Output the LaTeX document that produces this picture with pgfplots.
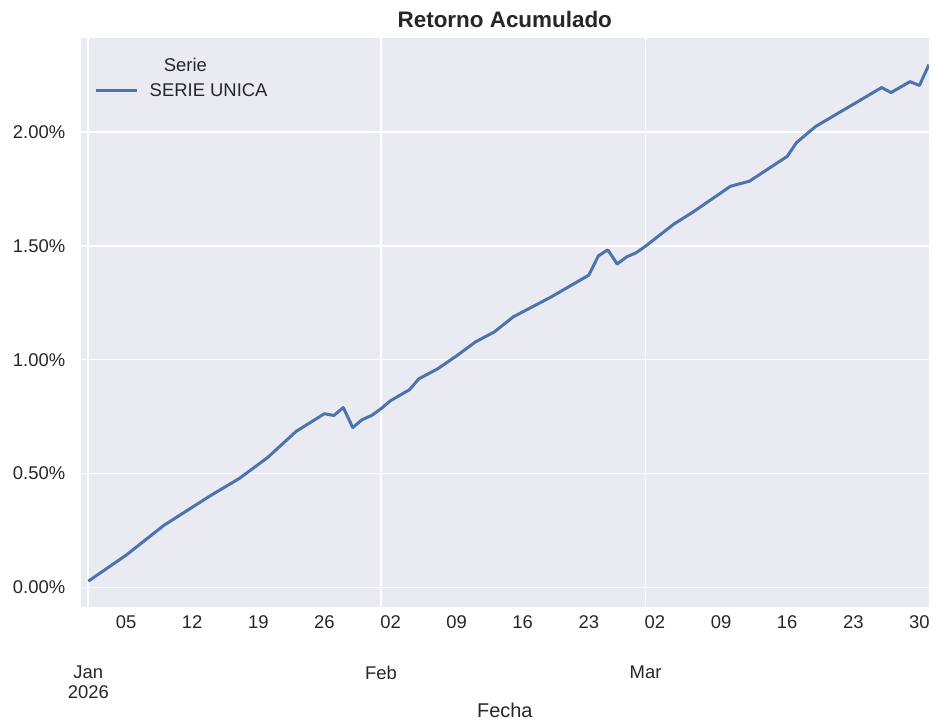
\documentclass[border=0pt]{standalone}
\usepackage{pgfplots}
\pgfplotsset{compat=1.18}
\usepackage{fontspec}
\setmainfont{Liberation Sans}

\definecolor{sbbg}{HTML}{EAEAF2}
\definecolor{sbblue}{HTML}{4C72B0}
\definecolor{sbtext}{HTML}{262626}

% dia 0 = 1 ene 2026
\pgfplotstableread{
dia  ret
0    0.028
4    0.142
8    0.273
13   0.405
16   0.479
19   0.571
22   0.685
25   0.763
26   0.755
27   0.790
28   0.702
29   0.737
30   0.755
31   0.785
32   0.820
34   0.868
35   0.916
37   0.960
39   1.017
41   1.078
43   1.122
45   1.188
49   1.275
53   1.371
54   1.455
55   1.482
56   1.420
57   1.451
58   1.469
59   1.498
62   1.595
64   1.647
68   1.761
70   1.783
74   1.892
75   1.953
77   2.023
84   2.194
85   2.172
87   2.220
88   2.203
89   2.294
}\serie

\begin{document}
\begin{tikzpicture}
\begin{axis}[
  name=ax,
  scale only axis,
  width=851pt, height=571pt,
  xmin=-0.8, xmax=89,
  ymin=-0.085, ymax=2.412,
  axis background/.style={fill=sbbg},
  axis line style={draw=none},
  major tick length=0pt,
  tick label style={font=\fontsize{18.5}{20}\selectfont, text=sbtext},
  xtick={4,11,18,25,32,39,46,53,60,67,74,81,88},
  xticklabels={05,12,19,26,02,09,16,23,02,09,16,23,30},
  xticklabel style={yshift=-5pt},
  extra x ticks={0,31,59},
  extra x tick labels={Jan\\2026,Feb,Mar},
  extra x tick style={grid=major, xticklabel style={align=center, yshift=-51pt}},
  ytick={0,0.5,1,1.5,2},
  yticklabels={0.00\%,0.50\%,1.00\%,1.50\%,2.00\%},
  yticklabel style={xshift=-12pt},
  ymajorgrids=true,
  major grid style={white, line width=1.6pt},
  title={Retorno Acumulado},
  title style={font=\fontsize{22.5}{26}\selectfont\bfseries, text=sbtext, at={(axis description cs:0.5,1)}, anchor=center, yshift=12pt},
  xlabel={Fecha},
  xlabel style={font=\fontsize{20}{22}\selectfont, text=sbtext, inner sep=0pt, at={(axis description cs:0.5,0)}, anchor=center, yshift=-104pt},
  legend style={draw=none, fill=none, at={(rel axis cs:0.0165,0.907)}, anchor=west,
    font=\fontsize{18.5}{20}\selectfont, text=sbtext, inner sep=0pt},
  legend image code/.code={\draw[#1] (0pt,0pt) -- (41pt,0pt);},
]
\addplot[sbblue, line width=3pt, line join=round] table[x=dia, y=ret] {\serie};
\addlegendentry{\hspace{9pt}SERIE UNICA}
\node[font=\fontsize{18.5}{20}\selectfont, text=sbtext] at (rel axis cs:0.1234,0.9527) {Serie};
\end{axis}
\path ([xshift=-81pt,yshift=-118pt]ax.south west) rectangle ([xshift=1pt,yshift=38pt]ax.north east);
\end{tikzpicture}
\end{document}
